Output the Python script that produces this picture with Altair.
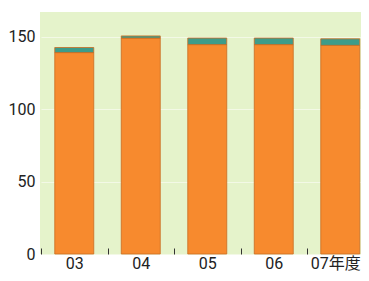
import altair as alt
import pandas as pd

years = ["03", "04", "05", "06", "07年度"]
orange_vals = [139, 149, 144.5, 144.5, 144]
teal_vals = [3.5, 1.5, 4.5, 4.5, 4.5]
series_names = ["main", "other"]
colors = ["#f78a2e", "#3d9c8a"]
y_ticks = [0, 50, 100, 150]

rows = []
for y, o, t in zip(years, orange_vals, teal_vals):
    rows.append({"year": y, "series": series_names[0], "value": o, "order": 0})
    rows.append({"year": y, "series": series_names[1], "value": t, "order": 1})
df = pd.DataFrame(rows)

FONT = "Roboto, Noto Sans CJK JP, sans-serif"

chart = (
    alt.Chart(df)
    .mark_bar(size=39, stroke="#c96c22", strokeWidth=0.8)
    .encode(
        x=alt.X(
            "year:N",
            sort=years,
            scale=alt.Scale(domain=years, range=[1, 333.5], paddingInner=0, paddingOuter=0),
            axis=alt.Axis(
                title=None, labelAngle=0, domain=False, tickBand="extent",
                offset=-6, tickSize=6, tickColor="#333333", tickWidth=1,
                labelPadding=1, labelFont=FONT, labelFontSize=16, labelColor="#222222",
                labelOffset={"condition": {"test": "datum.label == '07年度'", "value": -5}, "value": 0},
            ),
        ),
        y=alt.Y(
            "value:Q",
            stack="zero",
            scale=alt.Scale(domain=[0, 167], nice=False),
            axis=alt.Axis(
                title=None, values=y_ticks, ticks=False, domain=False, labelPadding=5,
                labelFont=FONT, labelFontSize=16, labelColor="#222222",
                gridColor="#f3f9e6", gridWidth=1,
            ),
        ),
        color=alt.Color(
            "series:N",
            scale=alt.Scale(domain=series_names, range=colors),
            legend=None,
        ),
        order=alt.Order("order:Q"),
    )
    .properties(
        width=321,
        height=242,
        autosize="none",
        padding={"left": 32, "top": 4, "right": 0, "bottom": 19},
    )
    .configure_view(fill="#e5f3cb", stroke=None)
)

chart.save("out.html", embed_options={"renderer": "svg", "actions": False})
